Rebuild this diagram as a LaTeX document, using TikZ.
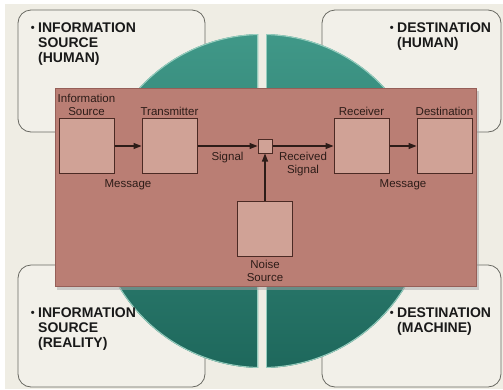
\documentclass[tikz,border=0pt]{standalone}
\usepackage{fontspec}
\setmainfont{Liberation Sans}
\usetikzlibrary{positioning,arrows.meta}
\definecolor{paper}{RGB}{239,237,228}
\definecolor{cardfill}{RGB}{242,240,233}
\definecolor{cardline}{RGB}{105,105,98}
\definecolor{tealtop}{RGB}{64,152,136}
\definecolor{tealbot}{RGB}{30,104,92}
\definecolor{tealedge}{RGB}{150,205,190}
\definecolor{panel}{RGB}{186,126,116}
\definecolor{panelline}{RGB}{150,95,88}
\definecolor{boxfill}{RGB}{208,162,150}
\definecolor{boxline}{RGB}{75,42,36}
\definecolor{ink}{RGB}{45,28,24}
\tikzset{
  card/.style={draw=cardline,fill=cardfill,line width=0.8pt,rounded corners=13pt},
  cardtext/.style={font=\fontsize{14}{14.8}\selectfont\bfseries,align=left,anchor=north west,inner sep=0pt,text=black!90},
  blk/.style={draw=boxline,fill=boxfill,line width=1pt,minimum size=55pt,inner sep=0pt},
  jct/.style={draw=boxline,fill=boxfill,line width=1pt,minimum size=14pt,inner sep=0pt},
  lbl/.style={font=\fontsize{11.5}{13}\selectfont,align=center,text=ink,inner sep=0pt},
  flow/.style={draw=ink,line width=1.2pt,-{Triangle[length=8pt,width=6pt]}}
}
\newcommand{\dotmark}{\llap{\raisebox{0.15ex}{\fontsize{11}{11}\selectfont\textbullet}\hspace{3.5pt}}}
\begin{document}
\begin{tikzpicture}[x=1pt,y=-1pt]
\useasboundingbox (0,0) rectangle (503,389);
\fill[white] (0,0) rectangle (503,389);
\fill[paper] (5,4) rectangle (503,389);
% corner cards
\draw[card] (18,10) rectangle (205,132);
\draw[card] (322,10) rectangle (501,132);
\draw[card] (18,265) rectangle (205,387);
\draw[card] (322,265) rectangle (501,387);
% quartered disc
\foreach \sx/\sy in {-1/-1,1/-1,-1/1,1/1}{
  \begin{scope}
    \clip (262+4*\sx,201+4*\sy) rectangle (262+180*\sx,201+180*\sy);
    \clip (262,201) circle (167);
    \shade[top color=tealtop,bottom color=tealbot] (262,201) circle (167);
    \draw[tealedge,line width=2pt] (262,201) circle (167);
    \draw[tealedge,line width=2pt] (262+4*\sx,201+4*\sy) rectangle (262+180*\sx,201+180*\sy);
  \end{scope}
}
% channel panel
\fill[black!35,opacity=0.5] (57,91) rectangle (479,290);
\draw[panelline,fill=panel,line width=0.8pt] (55,88) rectangle (476,286);

\node[blk] (src) at (86.5,146) {};
\node[blk] (tx) at (169.5,146) {};
\node[jct] (mix) at (265,146) {};
\node[blk] (rx) at (361.5,146) {};
\node[blk] (dst) at (444.5,146) {};
\node[blk] (noise) at (265,228.5) {};

\node[lbl,above=2pt of src] (srcname) {Information\\Source};
\node[lbl,above=2pt of tx] (txname) {Transmitter};
\node[lbl,above=2pt of rx] (rxname) {Receiver};
\node[lbl,above=2pt of dst] (dstname) {Destination};
\node[lbl,below=3pt of noise] (noisename) {Noise\\Source};

\draw[flow] (src) -- node[lbl,below=33pt] (msgA) {Message} (tx);
\draw[flow] (tx) -- node[lbl,below=6pt] (sig) {Signal} (mix);
\draw[flow] (mix) -- node[lbl,below=6pt] (rsig) {Received\\Signal} (rx);
\draw[flow] (rx) -- node[lbl,below=33pt] (msgB) {Message} (dst);
\draw[flow] (noise) -- (mix);

% card texts
\node[cardtext] (srchuman) at (38,22.7) {\dotmark INFORMATION\\SOURCE\\(HUMAN)};
\node[cardtext] (dsthuman) at (397,22.7) {\dotmark DESTINATION\\(HUMAN)};
\node[cardtext] (srcreal) at (38,308) {\dotmark INFORMATION\\SOURCE\\(REALITY)};
\node[cardtext] (dstmach) at (397,308) {\dotmark DESTINATION\\(MACHINE)};
\end{tikzpicture}
\end{document}
